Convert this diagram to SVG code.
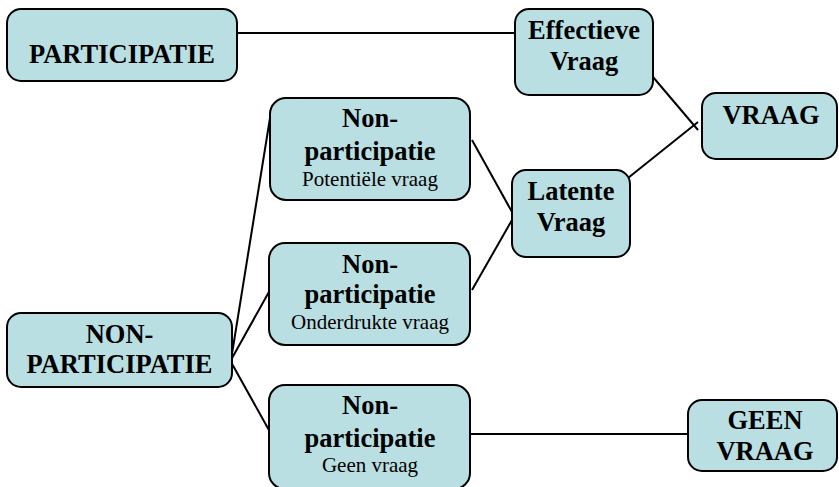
<svg xmlns="http://www.w3.org/2000/svg" width="839" height="487" viewBox="0 0 839 487">
<style>
.box{fill:#B9DFE2;stroke:#000;stroke-width:2}
.b{font-family:"Liberation Serif","Times New Roman",serif;font-weight:bold;font-size:26.5px;text-anchor:middle;fill:#000}
.s{font-family:"Liberation Serif","Times New Roman",serif;font-size:21px;text-anchor:middle;fill:#000}
.c{stroke:#000;stroke-width:2;fill:none}
</style>
<rect width="839" height="487" fill="#fff"/>
<g id="connectors">
<line class="c" x1="237" y1="33" x2="515" y2="33"/>
<line class="c" x1="653" y1="77" x2="698" y2="130"/>
<line class="c" x1="698" y1="122" x2="628" y2="178"/>
<line class="c" x1="472" y1="140" x2="512" y2="212"/>
<line class="c" x1="472" y1="290" x2="512" y2="220"/>
<line class="c" x1="231" y1="360" x2="270" y2="118"/>
<line class="c" x1="231" y1="360" x2="270" y2="290"/>
<line class="c" x1="231" y1="362" x2="270" y2="432"/>
<line class="c" x1="470" y1="434" x2="688" y2="434"/>
</g>
<g id="participatie">
<rect class="box" x="7" y="9" width="230" height="72" rx="14"/>
<text class="b" x="122" y="63">PARTICIPATIE</text>
</g>
<g id="effectieve-vraag">
<rect class="box" x="515" y="9" width="138" height="86" rx="14"/>
<text class="b" x="584" y="39">Effectieve</text>
<text class="b" x="584" y="70">Vraag</text>
</g>
<g id="vraag">
<rect class="box" x="702" y="93" width="135" height="66" rx="14"/>
<text class="b" x="771" y="124">VRAAG</text>
</g>
<g id="np-potentieel">
<rect class="box" x="270" y="98" width="200" height="102" rx="16"/>
<text class="b" x="370" y="127">Non-</text>
<text class="b" x="370" y="160">participatie</text>
<text class="s" x="370" y="185.5">Potentiële vraag</text>
</g>
<g id="latente-vraag">
<rect class="box" x="512" y="170" width="118" height="87" rx="14"/>
<text class="b" x="571" y="200">Latente</text>
<text class="b" x="571" y="230.5">Vraag</text>
</g>
<g id="np-onderdrukt">
<rect class="box" x="269" y="243" width="201" height="102" rx="16"/>
<text class="b" x="370" y="273">Non-</text>
<text class="b" x="370" y="303">participatie</text>
<text class="s" x="370" y="329">Onderdrukte vraag</text>
</g>
<g id="non-participatie">
<rect class="box" x="7" y="313" width="225" height="74" rx="14"/>
<text class="b" x="119.5" y="343">NON-</text>
<text class="b" x="119.5" y="373">PARTICIPATIE</text>
</g>
<g id="np-geen">
<rect class="box" x="269" y="385" width="201" height="104" rx="16"/>
<text class="b" x="370" y="414">Non-</text>
<text class="b" x="370" y="446.5">participatie</text>
<text class="s" x="370" y="471.5">Geen vraag</text>
</g>
<g id="geen-vraag">
<rect class="box" x="688" y="400" width="149" height="71" rx="14"/>
<text class="b" x="765" y="429">GEEN</text>
<text class="b" x="765" y="460">VRAAG</text>
</g>
</svg>
